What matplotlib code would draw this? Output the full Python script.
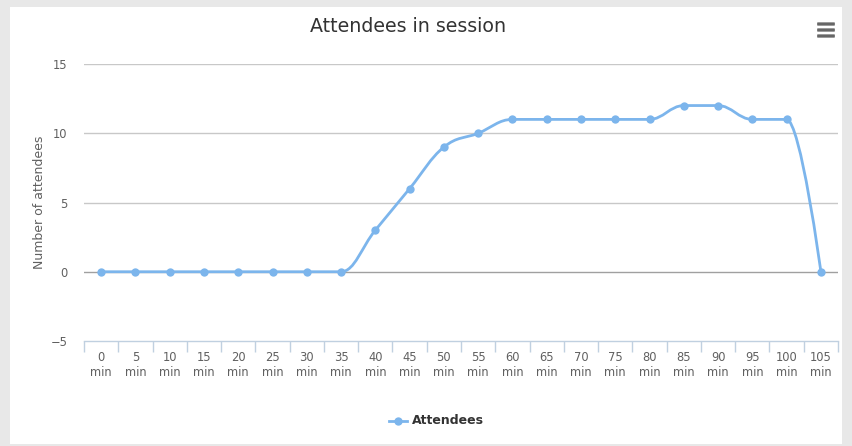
import matplotlib
matplotlib.use('Agg')
import matplotlib.pyplot as plt
from matplotlib.path import Path
from matplotlib.patches import PathPatch, Rectangle, FancyBboxPatch
from matplotlib.lines import Line2D

# data
minutes = [0, 5, 10, 15, 20, 25, 30, 35, 40, 45, 50, 55,
           60, 65, 70, 75, 80, 85, 90, 95, 100, 105]
attendees = [0, 0, 0, 0, 0, 0, 0, 0, 3, 6, 9, 10,
             11, 11, 11, 11, 11, 12, 12, 11, 11, 0]
tick_labels = [f"{m}\nmin" for m in minutes]

LINE_COLOR = '#7cb5ec'
TEXT_COLOR = '#606060'

plt.rcParams['font.family'] = ['DejaVu Sans']


def spline_path(xs, ys, smoothing=1.5):
    """Kontrollpunkte wie beim Highcharts-Spline."""
    denom = smoothing + 1
    n = len(xs)
    left, right = [None] * n, [None] * n
    for i in range(1, n - 1):
        px, py = xs[i], ys[i]
        lx, ly = xs[i - 1], ys[i - 1]
        nx, ny = xs[i + 1], ys[i + 1]
        lcx = (smoothing * px + lx) / denom
        lcy = (smoothing * py + ly) / denom
        rcx = (smoothing * px + nx) / denom
        rcy = (smoothing * py + ny) / denom
        if rcx != lcx:
            corr = (rcy - lcy) * (rcx - px) / (rcx - lcx) + py - rcy
            lcy += corr
            rcy += corr
        if lcy > ly and lcy > py:
            lcy = max(ly, py)
            rcy = 2 * py - lcy
        elif lcy < ly and lcy < py:
            lcy = min(ly, py)
            rcy = 2 * py - lcy
        if rcy > ny and rcy > py:
            rcy = max(ny, py)
            lcy = 2 * py - rcy
        elif rcy < ny and rcy < py:
            rcy = min(ny, py)
            lcy = 2 * py - rcy
        left[i] = (lcx, lcy)
        right[i] = (rcx, rcy)
    verts = [(xs[0], ys[0])]
    codes = [Path.MOVETO]
    for i in range(1, n):
        c1 = right[i - 1] if right[i - 1] else (xs[i - 1], ys[i - 1])
        c2 = left[i] if left[i] else (xs[i], ys[i])
        verts += [c1, c2, (xs[i], ys[i])]
        codes += [Path.CURVE4] * 3
    return Path(verts, codes)


fig = plt.figure(figsize=(8.52, 4.46), dpi=100)
fig.patch.set_facecolor('#e8e8e8')
# weisses Panel
fig.add_artist(Rectangle((10 / 852, 2 / 446), 832 / 852, 437 / 446,
                         transform=fig.transFigure, facecolor='white',
                         edgecolor='none', zorder=0))

ax = fig.add_axes([84 / 852, (446 - 341) / 446, 754 / 852, 277 / 446])
ax.set_facecolor('none')

x_pos = list(range(len(minutes)))
ax.set_xlim(-0.5, len(minutes) - 0.5)
ax.set_ylim(-5, 15)
ax.set_yticks([-5, 0, 5, 10, 15])

for y in [5, 10, 15]:
    ax.axhline(y, color='#c8c8c8', lw=1, zorder=1)
ax.axhline(0, color='#a0a0a0', lw=1, zorder=1)

patch = PathPatch(spline_path(x_pos, attendees), facecolor='none',
                  edgecolor=LINE_COLOR, lw=2, zorder=3)
ax.add_patch(patch)
ax.plot(x_pos, attendees, 'o', color=LINE_COLOR, ms=6, mew=0, zorder=4)

for s in ['top', 'right', 'left']:
    ax.spines[s].set_visible(False)
ax.spines['bottom'].set_color('#c0d0e0')
ax.spines['bottom'].set_linewidth(1)

ax.set_xticks(x_pos)
ax.set_xticklabels(tick_labels, fontsize=8.3, color=TEXT_COLOR, linespacing=1.25)
ax.set_xticks([i - 0.5 for i in range(len(minutes) + 1)], minor=True)
ax.tick_params(axis='x', which='major', length=0, pad=7)
ax.tick_params(axis='x', which='minor', length=8, color='#c0d0e0', width=1)
ax.tick_params(axis='y', length=0, pad=12, labelsize=8.3, labelcolor=TEXT_COLOR)

ax.set_ylabel('Number of attendees', fontsize=9, color=TEXT_COLOR, labelpad=3)

fig.text(408 / 852, 1 - 27 / 446, 'Attendees in session', ha='center',
         va='center', fontsize=13.7, color='#333333')

# Menue-Symbol
for yy in [24, 30, 36]:
    fig.add_artist(FancyBboxPatch((818 / 852, 1 - (yy + 1.2) / 446), 16 / 852, 2.4 / 446,
                                  boxstyle='round,pad=0.001',
                                  transform=fig.transFigure, facecolor='#666666',
                                  edgecolor='none'))

# Legende
fig.add_artist(Line2D([389 / 852, 407 / 852], [1 - 421 / 446] * 2,
                      color=LINE_COLOR, lw=2, marker=None))
fig.add_artist(Line2D([398 / 852], [1 - 421 / 446], color=LINE_COLOR,
                      marker='o', ms=6, mew=0, lw=0))
fig.text(412 / 852, 1 - 421 / 446, 'Attendees', ha='left', va='center',
         fontsize=9, fontweight='bold', color='#333333')

fig.savefig('out.png', dpi=100, facecolor=fig.get_facecolor())
